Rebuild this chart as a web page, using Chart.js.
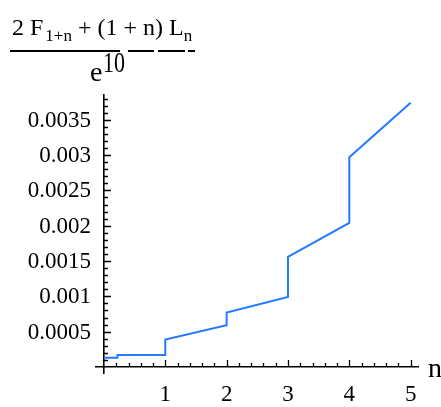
<!DOCTYPE html>
<html>
<head>
<meta charset="utf-8">
<script src="https://cdn.jsdelivr.net/npm/chart.js@4/dist/chart.umd.min.js"></script>
<style>
  html, body { margin: 0; padding: 0; background: #fff; }
  #wrap { position: relative; width: 441px; height: 407px; overflow: hidden; }
  #plot { position: absolute; left: 0; top: 0; }
  .serif { font-family: "Liberation Serif", "Times New Roman", serif; color: #000; position: absolute; white-space: nowrap; line-height: 1; }
  .sub { font-size: 17px; position: relative; top: 6px; }
  .rule { position: absolute; height: 2px; background: #000; }
</style>
</head>
<body>
<div id="wrap">
  <canvas id="plot" width="441" height="407"></canvas>
  <!-- expression label above the plot -->
  <span class="serif" style="left:12px; top:15px; font-size:24px;">2 F<span class="sub" style="margin-left:2px;">1+n</span> + (1 + n) L<span class="sub">n</span></span>
  <div class="rule" style="left:10px; top:50px; width:110px;"></div>
  <span class="serif" style="left:90px; top:58px; font-size:28px;">e</span>
  <span class="serif" style="left:103px; top:54px; font-size:22px; transform:scaleY(1.3); transform-origin:0 19px;">10</span>
  <div class="rule" style="left:128px; top:50px; width:26px;"></div>
  <div class="rule" style="left:158px; top:50px; width:27px;"></div>
  <div class="rule" style="left:188px; top:50px; width:7px;"></div>
</div>
<script>
// curve: n and value (jumps repeat the n)
const nValues = [0, 0.22, 0.22, 1, 1, 2, 2, 3, 3, 4, 4, 5];
const fValues = [0.00013, 0.00013, 0.00017, 0.00017, 0.00039, 0.00059, 0.00077, 0.00099, 0.00156, 0.00204, 0.00297, 0.00374];

// tick labels
const xTickValues = [1, 2, 3, 4, 5];
const yTickValues = [0.0005, 0.001, 0.0015, 0.002, 0.0025, 0.003, 0.0035];
const yTickLabels = ['0.0005', '0.001', '0.0015', '0.002', '0.0025', '0.003', '0.0035'];

const serif = '"Liberation Serif", "Times New Roman", serif';

// Mathematica style inward ticks, y labels left of the axis, and the "n" label
const axisTicks = {
    id: 'axisTicks',
    afterDraw(chart) {
        const { ctx, scales: { x, y } } = chart;
        const x0 = x.getPixelForValue(0);
        const y0 = y.getPixelForValue(0);
        ctx.save();
        ctx.strokeStyle = '#000';
        ctx.lineWidth = 1.3;
        ctx.beginPath();
        for (let k = 1; k <= 25; k++) {
            const px = Math.round(x.getPixelForValue(k * 0.2)) + 0.5;
            const len = k % 5 === 0 ? 7 : 4;
            ctx.moveTo(px, y0);
            ctx.lineTo(px, y0 - len);
        }
        for (let k = 1; k <= 38; k++) {
            const py = Math.round(y.getPixelForValue(k * 0.0001)) + 0.5;
            const len = k % 5 === 0 ? 7 : 4;
            ctx.moveTo(x0, py);
            ctx.lineTo(x0 + len, py);
        }
        ctx.stroke();

        ctx.fillStyle = '#000';
        ctx.font = '23px ' + serif;
        ctx.textAlign = 'right';
        ctx.textBaseline = 'middle';
        yTickValues.forEach((v, i) => {
            ctx.fillText(yTickLabels[i], x0 - 13, y.getPixelForValue(v) + 1);
        });

        ctx.font = '28px ' + serif;
        ctx.textAlign = 'left';
        ctx.textBaseline = 'alphabetic';
        ctx.fillText('n', x.right + 10, y0 + 10);
        ctx.restore();
    }
};

document.addEventListener('DOMContentLoaded', function () {
    const ctx = document.getElementById('plot').getContext('2d');
    new Chart(ctx, {
        type: 'line',
        data: {
            datasets: [{
                data: nValues.map((n, i) => ({ x: n, y: fValues[i] })),
                borderColor: '#2479ff',
                borderWidth: 2,
                pointRadius: 0,
                fill: false,
                tension: 0
            }]
        },
        options: {
            responsive: false,
            animation: false,
            layout: {
                padding: { left: 96, right: 23, top: 95, bottom: 34 }
            },
            plugins: {
                legend: { display: false },
                tooltip: { enabled: false }
            },
            scales: {
                x: {
                    type: 'linear',
                    position: { y: 0 },
                    min: -0.13,
                    max: 5.12,
                    afterFit: s => { s.height = 0; },
                    afterBuildTicks: s => { s.ticks = xTickValues.map(v => ({ value: v })); },
                    grid: { display: true, drawOnChartArea: false, drawTicks: false },
                    border: { display: true, color: '#000', width: 1.6 },
                    ticks: {
                        autoSkip: false,
                        maxRotation: 0,
                        padding: 14,
                        color: '#000',
                        font: { family: serif, size: 23 },
                        callback: v => String(v)
                    }
                },
                y: {
                    type: 'linear',
                    position: { x: 0 },
                    min: -0.000085,
                    max: 0.00385,
                    afterFit: s => { s.width = 0; },
                    afterBuildTicks: s => { s.ticks = yTickValues.map(v => ({ value: v })); },
                    grid: { display: true, drawOnChartArea: false, drawTicks: false },
                    border: { display: true, color: '#000', width: 1.6 },
                    ticks: { display: false }
                }
            }
        },
        plugins: [axisTicks]
    });
});
</script>
</body>
</html>
